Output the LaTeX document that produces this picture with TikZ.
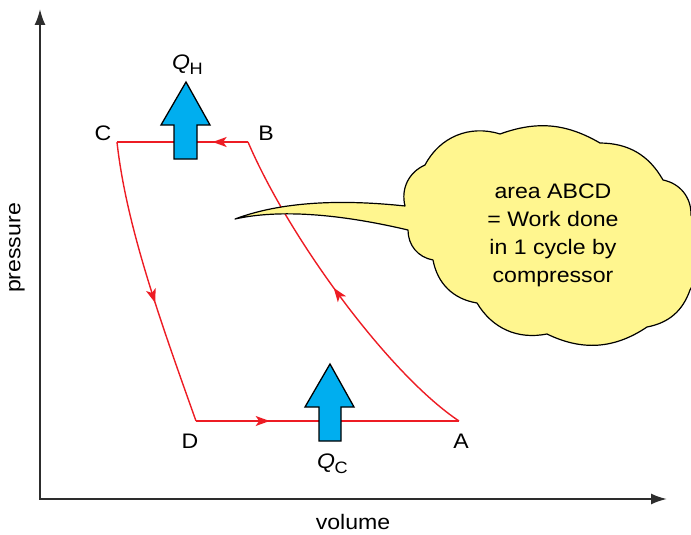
\documentclass[tikz,border=0pt]{standalone}
\usepackage{fontspec}
\setmainfont{Liberation Sans}[FakeStretch=1.1]
\usetikzlibrary{arrows.meta,decorations.markings}
\definecolor{cycred}{RGB}{237,28,36}
\definecolor{qblue}{RGB}{0,174,239}
\definecolor{cloudyellow}{RGB}{255,246,143}
\definecolor{axisgray}{RGB}{45,45,45}
\begin{document}
\begin{tikzpicture}[x=1pt,y=-1pt,
  lbl/.style={font=\fontsize{21}{25}\selectfont, inner sep=0pt},
  axisline/.style={line width=2pt, draw=axisgray, {Latex[length=16pt,width=11pt]}-{Latex[length=16pt,width=11pt]}},
  cyc/.style={draw=cycred, line width=1.4pt},
  midarrow/.style={postaction={decorate}, decoration={markings, mark=at position #1 with {\arrow{Stealth[length=14pt,width=10pt,inset=3.5pt,color=cycred]}}}},
  qarrow/.style={draw=black, line width=1.3pt, fill=qblue, line join=miter},
  cloudshape/.style={draw=black, line width=1.2pt, fill=cloudyellow, line join=round}]
\useasboundingbox (0,0) rectangle (691,535);
% axes
\coordinate (O) at (40,499);
\coordinate (ytip) at (40,9);
\coordinate (xtip) at (667,499);
\draw[axisline] (ytip) -- (O) -- (xtip);
\node[lbl, rotate=90] (plabel) at (17,248) {pressure};
\node[lbl] (vlabel) at (353,522) {volume};
% cycle vertices
\coordinate (A) at (459,421);
\coordinate (B) at (248,142);
\coordinate (C) at (117,142);
\coordinate (D) at (196,421);
\draw[cyc, midarrow=0.27] (B) -- (C);
\draw[cyc, midarrow=0.57] (C) .. controls (126,225) and (160,320) .. (D);
\draw[cyc, midarrow=0.28] (D) -- (A);
\draw[cyc, midarrow=0.52] (A) .. controls (390,375) and (290,240) .. (B);
\node[lbl] (Alab) at (461,441) {A};
\node[lbl] (Blab) at (266,133) {B};
\node[lbl] (Clab) at (103,133) {C};
\node[lbl] (Dlab) at (190,441) {D};
% heat arrows
\draw[qarrow] (186,82) -- (210,125) -- (197,125) -- (197,159) -- (174,159) -- (174,125) -- (161,125) -- cycle;
\draw[qarrow] (330,364) -- (354,407) -- (341,407) -- (341,441) -- (319,441) -- (319,407) -- (305,407) -- cycle;
\node[lbl, anchor=base west] (qh) at (172,70) {\itshape Q\kern-0.5pt\raisebox{-5pt}{\upshape\fontsize{16.5}{16}\selectfont H}};
\node[lbl, anchor=base west] (qc) at (317,468) {\itshape Q\kern-0.5pt\raisebox{-5pt}{\upshape\fontsize{16.5}{16}\selectfont C}};
% cloud
\draw[cloudshape] (405,206) to[bend left=40] (425,165) to[bend left=40] (500,134) to[bend left=25] (600,143)
  to[bend left=30] (663,180) to[bend left=40] (691,215) to[bend left=30] (690,290)
  to[bend left=30] (647,327) to[bend left=30] (547,334) to[bend left=35] (477,303)
  to[bend left=35] (433,260) to[bend left=40] (408,230)
  .. controls (340,214) and (280,209) .. (235,219)
  .. controls (275,204) and (330,198) .. (405,206) -- cycle;
\node[lbl, align=center, font=\fontsize{21}{28}\selectfont] (cloudtext) at (553,235) {area ABCD\\= Work done\\in 1 cycle by\\compressor};
\end{tikzpicture}
\end{document}
